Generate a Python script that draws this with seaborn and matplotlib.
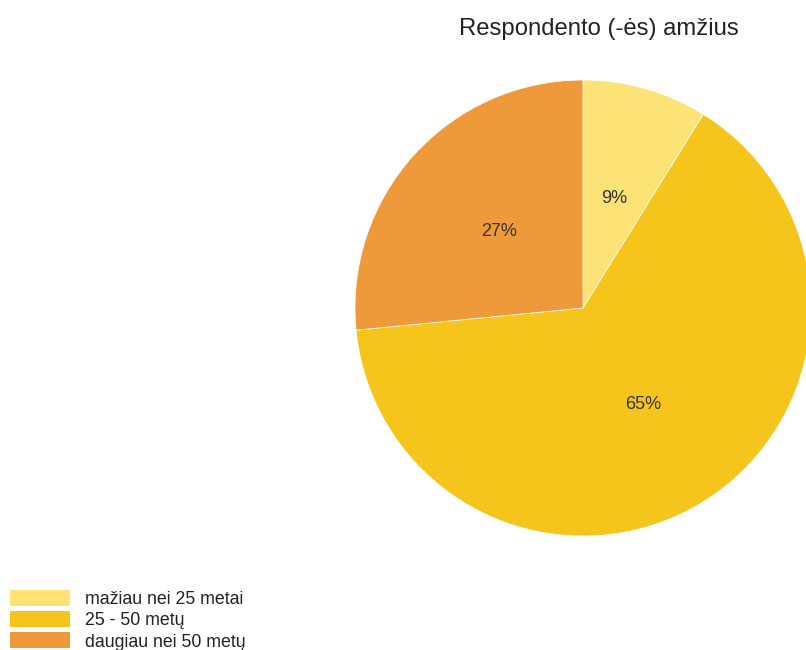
import matplotlib
matplotlib.use("Agg")
import matplotlib.pyplot as plt
import seaborn as sns
from matplotlib.patches import Patch

categories = ["mažiau nei 25 metai", "25 - 50 metų", "daugiau nei 50 metų"]
counts = [10, 73, 30]
colors = ["#FDE275", "#F6C51B", "#EE9A3A"]
title = "Respondento (-ės) amžius"

sns.set_theme(style="white")
plt.rcParams['font.family'] = ['Liberation Sans', 'DejaVu Sans']

W, H = 806, 650
fig = plt.figure(figsize=(W/100, H/100), dpi=100)
cx, cy, r = 583, 308, 228
ax = fig.add_axes([(cx - r)/W, (H - cy - r)/H, 2*r/W, 2*r/H])
wedges, texts, autotexts = ax.pie(
    counts, colors=colors, startangle=90, counterclock=False,
    autopct=lambda p: f"{p:.0f}%", pctdistance=0.5, radius=1,
    wedgeprops=dict(edgecolor="#FFFFFF", linewidth=0.5, alpha=1.0),
    textprops=dict(fontsize=13, color="#333333"))
ax.set_xlim(-1, 1)
ax.set_ylim(-1, 1)
ax.set_aspect("equal")
ax.axis("off")

fig.text(598.5/W, 1 - 29/H, title, ha="center", va="center", fontsize=17.2, color="#222222")

handles = [Patch(facecolor=c, edgecolor="none") for c in colors]
fig.legend(handles, categories, loc="upper left", bbox_to_anchor=(10/W, 1 - 590/H),
           frameon=False, fontsize=12.8, handlelength=3.37, handleheight=1.0,
           handletextpad=0.84, labelspacing=0.18, borderpad=0, borderaxespad=0,
           labelcolor="#222222")

fig.savefig("out.png", dpi=100)
